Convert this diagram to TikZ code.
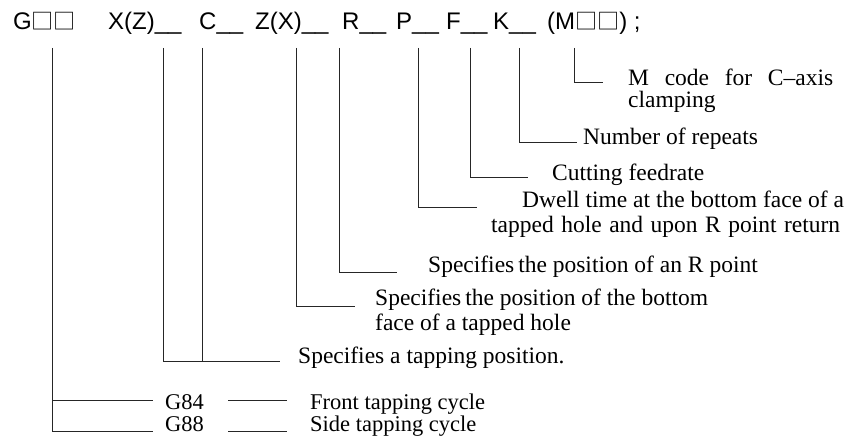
\documentclass[tikz,border=0pt]{standalone}
\usepackage{fontspec}
\setmainfont{Liberation Serif}
\newfontfamily\hdr{Liberation Sans}
\newfontfamily\cjk[Scale=0.92]{Noto Sans CJK SC}
\newcommand\sqbox{{\cjk □}}
\begin{document}
\begin{tikzpicture}[x=1pt,y=-1pt,
  hd/.style={anchor=base west,inner sep=0pt,font=\hdr\fontsize{24}{24}\selectfont},
  lb/.style={anchor=base west,inner sep=0pt,font=\fontsize{23.5}{24}\selectfont},
  lbs/.style={anchor=base west,inner sep=0pt,font=\fontsize{22.5}{23}\selectfont},
  ln/.style={line width=0.9pt,draw=black!85}]
\useasboundingbox[fill=white] (0,0) rectangle (855,436);
% header tokens
\node[hd] (hG) at (13,30) {G\sqbox\sqbox};
\node[hd] (hX) at (108,30) {X(Z)\_\_};
\node[hd] (hC) at (199,30) {C\_\_};
\node[hd] (hZ) at (255,30) {Z(X)\_\_};
\node[hd] (hR) at (342,30) {R\_\_};
\node[hd] (hP) at (396,30) {P\_\_};
\node[hd] (hF) at (446,30) {F\_\_};
\node[hd] (hK) at (493,30) {K\_\_};
\node[hd] (hM) at (547,30) {(M\sqbox\sqbox) ;};
% labels
\node[lb] (lM1) at (628,85) {\makebox[205pt][s]{M code for C–axis}};
\node[lb] (lM2) at (628,108) {clamping};
\node[lb] (lK) at (583,145) {Number of repeats};
\node[lb] (lF) at (552,180) {Cutting feedrate};
\node[lb] (lP1) at (522,207) {Dwell time at the bottom face of a};
\node[lb] (lP2) at (491,232) {\makebox[349pt][s]{tapped hole and upon R point return}};
\node[lb] (lR) at (428,272) {Specifies\,the position of an R point};
\node[lb] (lZ1) at (375,305) {Specifies\,the position of the bottom};
\node[lb] (lZ2) at (375,330) {face of a tapped hole};
\node[lb] (lXC) at (298,363) {Specifies a tapping position.};
\node[lbs] (g84) at (165,409) {G84};
\node[lbs] (g88) at (165,431.5) {G88};
\node[lbs] (l84) at (310,409) {Front tapping cycle};
\node[lbs] (l88) at (310,431.5) {Side tapping cycle};
% connector points
\coordinate (tG) at (52,48);
\coordinate (tX) at (163,48);
\coordinate (tC) at (202,48);
\coordinate (tZ) at (296,48);
\coordinate (tR) at (339,48);
\coordinate (tP) at (418,48);
\coordinate (tF) at (470,48);
\coordinate (tK) at (519,48);
\coordinate (tM) at (574,48);
\coordinate (eM) at (603,82);
\coordinate (eK) at (577,142);
\coordinate (eF) at (528,177);
\coordinate (eP) at (477,207);
\coordinate (eR) at (397,272);
\coordinate (eZ) at (355,306);
\coordinate (eXC) at (280,361);
\coordinate (jC) at (202,361);
\coordinate (j84) at (52,400);
\coordinate (e84) at (153,400);
\coordinate (e88) at (153,431);
\coordinate (d84a) at (228,400);
\coordinate (d84b) at (287,400);
\coordinate (d88a) at (228,431);
\coordinate (d88b) at (287,431);
% connectors
\draw[ln] (tM) |- (eM);
\draw[ln] (tK) |- (eK);
\draw[ln] (tF) |- (eF);
\draw[ln] (tP) |- (eP);
\draw[ln] (tR) |- (eR);
\draw[ln] (tZ) |- (eZ);
\draw[ln] (tX) |- (eXC);
\draw[ln] (tC) -- (jC);
\draw[ln] (tG) |- (e88);
\draw[ln] (j84) -- (e84);
\draw[ln] (d84a) -- (d84b);
\draw[ln] (d88a) -- (d88b);
\end{tikzpicture}
\end{document}
